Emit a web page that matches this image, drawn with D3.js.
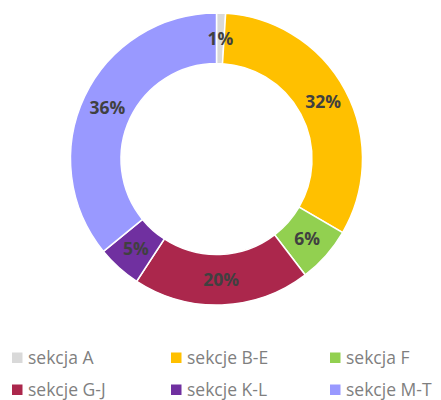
<!DOCTYPE html>
<html>
<head>
<meta charset="utf-8">
<script src="https://cdn.jsdelivr.net/npm/d3@7"></script>
<style>
  html, body { margin: 0; padding: 0; background: #fff; }
  svg { display: block; }
</style>
</head>
<body>
<svg id="chart" width="441" height="400"></svg>
<script>
const categories = ["sekcja A", "sekcje B-E", "sekcja F", "sekcje G-J", "sekcje K-L", "sekcje M-T"];
const values = [1.0, 32.4, 6.2, 19.6, 4.9, 35.9];
const colors = ["#d9d9d9", "#ffc000", "#92d050", "#ab274c", "#7030a0", "#9999ff"];

const svg = d3.select("#chart");
const cx = 216.5, cy = 159, outerR = 146, innerR = 95.5;

const data = categories.map((c, i) => ({ name: c, value: values[i], color: colors[i] }));
const total = d3.sum(values);

const pie = d3.pie().value(d => d.value).sort(null);
const arc = d3.arc().innerRadius(innerR).outerRadius(outerR);

const g = svg.append("g").attr("transform", `translate(${cx},${cy})`);
const arcs = pie(data);

g.selectAll("path.slice")
  .data(arcs)
  .join("path")
  .attr("class", "slice")
  .attr("d", arc)
  .attr("fill", d => d.data.color)
  .attr("stroke", "#ffffff")
  .attr("stroke-width", 1.5);

g.selectAll("text.lbl")
  .data(arcs)
  .join("text")
  .attr("class", "lbl")
  .attr("transform", d => `translate(${arc.centroid(d)})`)
  .attr("text-anchor", "middle")
  .attr("dy", "0.36em")
  .style("font-family", "'Open Sans', sans-serif")
  .style("font-weight", "700")
  .style("font-size", "17.5px")
  .attr("fill", "#404040")
  .text(d => Math.round(d.data.value / total * 100) + "%");

// Legend
const colX = d3.scaleOrdinal().domain([0, 1, 2]).range([12, 171, 330]);
const rowY = d3.scaleOrdinal().domain([0, 1]).range([352.5, 384.5]);

const leg = svg.append("g").attr("class", "legend");
const items = leg.selectAll("g.item")
  .data(data)
  .join("g")
  .attr("class", "item")
  .attr("transform", (d, i) => `translate(${colX(i % 3)},${rowY(Math.floor(i / 3))})`);

items.append("rect")
  .attr("width", 10.5)
  .attr("height", 10.5)
  .attr("fill", d => d.color);

items.append("text")
  .attr("x", 16)
  .attr("y", 11)
  .style("font-family", "'Open Sans', sans-serif")
  .style("font-size", "17.5px")
  .attr("fill", "#7f7f7f")
  .text(d => d.name);
</script>
</body>
</html>
